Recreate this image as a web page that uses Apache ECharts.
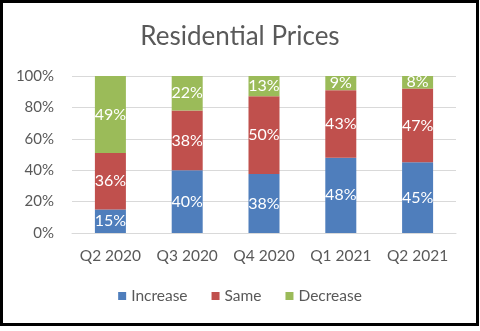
<!DOCTYPE html>
<html><head><meta charset="utf-8">
<script src="https://cdn.jsdelivr.net/npm/echarts@6/dist/echarts.min.js"></script>
<style>html,body{margin:0;padding:0;background:#fff}#c{width:480px;height:331px}</style>
</head><body><div id="c"></div>
<script>
const categories = ['Q2 2020','Q3 2020','Q4 2020','Q1 2021','Q2 2021'];
const increase = [15, 40, 38, 48, 45];
const same = [36, 38, 50, 43, 47];
const decrease = [49, 22, 13, 9, 8];
const yTicks = [0, 20, 40, 60, 80, 100];
const colors = ['#4F7EBC', '#C0504D', '#9BBB59'];
const FONT = 'Lato, "Open Sans", sans-serif';

const totals = categories.map((_, i) => increase[i] + same[i] + decrease[i]);
function norm(arr) { return arr.map((v, i) => ({ value: v / totals[i] * 100, raw: v })); }

function mk(name, arr, color) {
  return {
    name, type: 'bar', stack: 'all', barWidth: 31,
    data: norm(arr),
    itemStyle: { color },
    label: {
      show: true, position: 'inside', color: '#fff', fontSize: 16, fontFamily: FONT,
      formatter: p => p.data.raw + '%'
    }
  };
}

const chart = echarts.init(document.getElementById('c'), null, { renderer: 'canvas' });
chart.setOption({
  animation: false,
  title: {
    text: 'Residential Prices', left: 'center', top: 19,
    textStyle: { fontFamily: FONT, fontSize: 26, fontWeight: 'normal', color: '#595959' }
  },
  legend: {
    bottom: 22, left: 'center', itemWidth: 8, itemHeight: 8, itemGap: 24,
    icon: 'rect',
    textStyle: { fontFamily: FONT, fontSize: 15.5, color: '#595959' },
    data: ['Increase', 'Same', 'Decrease']
  },
  grid: { left: 72, right: 24, top: 76, bottom: 98 },
  xAxis: {
    type: 'category', data: categories,
    axisLine: { lineStyle: { color: '#D9D9D9' } },
    axisTick: { show: false },
    axisLabel: { color: '#595959', fontSize: 15.5, fontFamily: FONT, margin: 15, interval: 0, hideOverlap: false }
  },
  yAxis: {
    type: 'value', min: yTicks[0], max: yTicks[yTicks.length - 1], interval: 20,
    axisLine: { show: false }, axisTick: { show: false },
    splitLine: { lineStyle: { color: '#D9D9D9', width: 1 } },
    axisLabel: { color: '#595959', fontSize: 15, fontFamily: FONT, margin: 18, formatter: '{value}%' }
  },
  graphic: [{
    type: 'rect', shape: { x: 1.5, y: 1.5, width: 476, height: 323 },
    style: { fill: 'none', stroke: '#000', lineWidth: 3 }, silent: true
  }],
  series: [mk('Increase', increase, colors[0]), mk('Same', same, colors[1]), mk('Decrease', decrease, colors[2])]
});
</script></body></html>
